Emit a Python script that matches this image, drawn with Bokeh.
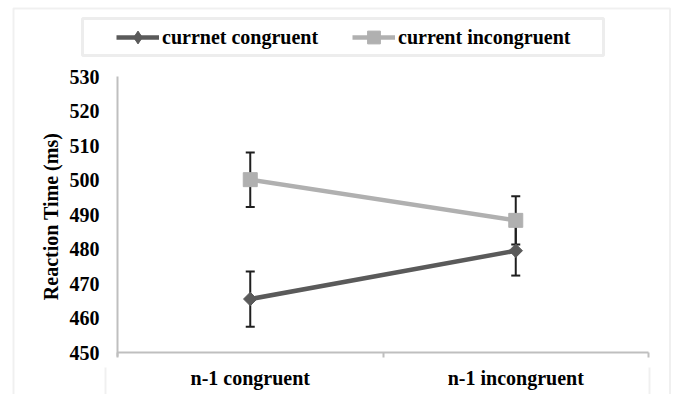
import numpy as np
from bokeh.plotting import figure
from bokeh.models import (Range1d, FixedTicker, ColumnDataSource, Whisker, TeeHead,
                          Legend, LegendItem, PolyAnnotation, LinearAxis)
from bokeh.embed import file_html
from bokeh.resources import INLINE

# ---- data ----
categories = ["n-1 congruent", "n-1 incongruent"]
series_names = ["currnet congruent", "current incongruent"]
congruent_rt = [465.5, 479.5]
congruent_err = [8.0, 7.2]
incongruent_rt = [500.1, 488.3]
incongruent_err = [7.9, 7.0]
y_ticks = [450, 460, 470, 480, 490, 500, 510, 520, 530]

FONT = "Liberation Serif"
FS = "20px"
AXIS_GREY = "#bfbfbf"
BORDER_GREY = "#cccccc"
DARK = "#5a5a5a"
LIGHT = "#b0b0b0"

W, H = 675, 394
# plot-area placement on the canvas (pixels)
PX0, PX1, PY0, PY1 = 117, 648, 76, 352

n = len(categories)
x_pos = [i + 0.5 for i in range(n)]
ymin, ymax = y_ticks[0], y_ticks[-1]
xs_per_px = n / (PX1 - PX0)
ys_per_px = (ymax - ymin) / (PY1 - PY0)
x_range = Range1d(0 - PX0 * xs_per_px, n + (W - PX1) * xs_per_px)
y_range = Range1d(ymin - (H - PY1) * ys_per_px, ymax + PY0 * ys_per_px)

p = figure(width=W, height=H, output_backend="svg", toolbar_location=None,
           x_range=x_range, y_range=y_range,
           x_axis_location=None, y_axis_location=None,
           min_border=0)
p.outline_line_color = None
p.grid.visible = False
p.background_fill_color = "white"
p.border_fill_color = "white"

# y axis
ya = LinearAxis(fixed_location=0, bounds=(ymin - 1.2, ymax))
ya.ticker = FixedTicker(ticks=y_ticks)
ya.axis_line_color = AXIS_GREY
ya.axis_line_width = 2
ya.major_tick_line_color = None
ya.major_tick_out = 0
ya.major_tick_in = 0
ya.minor_tick_line_color = None
ya.major_label_standoff = 18
ya.major_label_text_font = FONT
ya.major_label_text_font_style = "bold"
ya.major_label_text_font_size = FS
ya.major_label_text_color = "black"
ya.axis_label = "Reaction Time (ms)"
ya.axis_label_text_font = FONT
ya.axis_label_text_font_style = "bold"
ya.axis_label_text_font_size = FS
ya.axis_label_text_color = "black"
ya.axis_label_standoff = 5
p.add_layout(ya, "left")

# x axis
xa = LinearAxis(fixed_location=ymin, bounds=(0, n))
xa.ticker = FixedTicker(ticks=x_pos, minor_ticks=list(range(n + 1)))
xa.major_label_overrides = {x: c for x, c in zip(x_pos, categories)}
xa.axis_line_color = AXIS_GREY
xa.axis_line_width = 2
xa.major_tick_line_color = None
xa.major_tick_out = 0
xa.major_tick_in = 0
xa.minor_tick_line_color = AXIS_GREY
xa.minor_tick_line_width = 2
xa.minor_tick_out = 5
xa.minor_tick_in = 0
xa.major_label_standoff = 9
xa.major_label_text_font = FONT
xa.major_label_text_font_style = "bold"
xa.major_label_text_font_size = FS
xa.major_label_text_color = "black"
p.add_layout(xa, "below")

# error bars
for vals, errs in ((congruent_rt, congruent_err), (incongruent_rt, incongruent_err)):
    src = ColumnDataSource(dict(x=x_pos,
                                upper=[v + e for v, e in zip(vals, errs)],
                                lower=[v - e for v, e in zip(vals, errs)]))
    w = Whisker(base="x", upper="upper", lower="lower", source=src, dimension="height",
                line_color="#1f1f1f", line_width=2, level="underlay",
                upper_head=TeeHead(size=9, line_color="#1f1f1f", line_width=2),
                lower_head=TeeHead(size=9, line_color="#1f1f1f", line_width=2))
    p.add_layout(w)

# series
l1 = p.line(x_pos, congruent_rt, line_color=DARK, line_width=4.5)
m1 = p.scatter(x_pos, congruent_rt, marker="square", angle=np.pi / 4, size=9.5,
               fill_color=DARK, line_color=DARK)
l2 = p.line(x_pos, incongruent_rt, line_color=LIGHT, line_width=4.5)
m2 = p.scatter(x_pos, incongruent_rt, marker="square", size=14,
               fill_color=LIGHT, line_color=LIGHT)
# legend-only diamond glyph (no visible data point)
m1_key = p.scatter([np.nan], [np.nan], marker="diamond", size=12,
                   fill_color=DARK, line_color=DARK)

legend = Legend(items=[LegendItem(label=series_names[0], renderers=[l1, m1_key]),
                       LegendItem(label=series_names[1], renderers=[l2, m2])],
                orientation="horizontal", location=(116, H - 53),
                border_line_alpha=0, background_fill_alpha=0, padding=0, margin=0,
                glyph_width=43, glyph_height=32, label_height=32, label_standoff=3,
                spacing=34, label_text_font=FONT, label_text_font_style="bold",
                label_text_font_size=FS, label_text_color="black")
p.add_layout(legend, "center")

# legend frame and chart border (decoration)
p.add_layout(PolyAnnotation(xs=[82, 603, 603, 82], ys=[18, 18, 55, 55],
                            xs_units="canvas", ys_units="canvas",
                            fill_alpha=0, line_color="#c4c4c4", line_width=3))
p.add_layout(PolyAnnotation(xs=[13, 669.5, 669.5, 13], ys=[8, 8, 430, 430],
                            xs_units="canvas", ys_units="canvas",
                            fill_alpha=0, line_color=BORDER_GREY, line_width=2))
for xx in (105, 649):
    p.add_layout(PolyAnnotation(xs=[xx, xx], ys=[367, 430],
                                xs_units="canvas", ys_units="canvas",
                                fill_alpha=0, line_color=BORDER_GREY, line_width=2))

open("out.html", "w").write(file_html(p, INLINE))
